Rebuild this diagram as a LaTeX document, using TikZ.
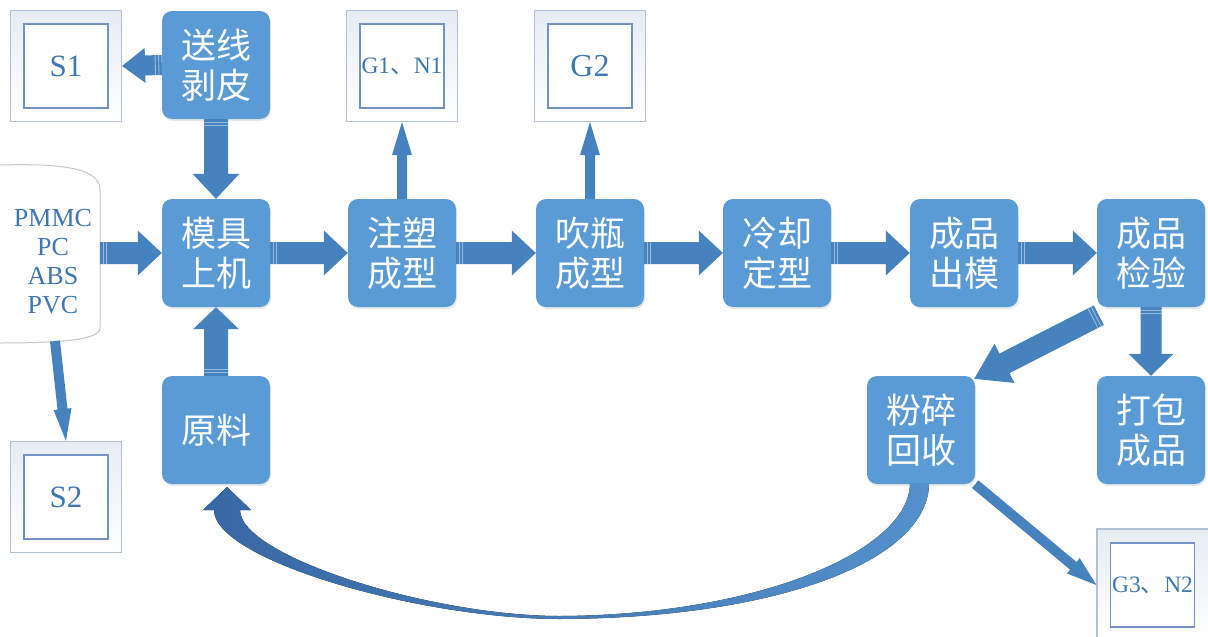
\documentclass[tikz,border=0pt]{standalone}
\usepackage{fontspec}
\setmainfont{Liberation Serif}
\newfontfamily\serifz{Liberation Serif}
\newfontfamily\cjk{Noto Sans CJK SC}
\usetikzlibrary{calc,shadows}
\definecolor{boxc}{RGB}{91,155,213}
\definecolor{arrowc}{RGB}{70,130,190}
\definecolor{txtc}{RGB}{62,118,178}
\definecolor{outc}{RGB}{175,192,215}
\definecolor{inc}{RGB}{115,145,195}
\definecolor{curvl}{RGB}{56,104,163}
\definecolor{curvr}{RGB}{84,144,204}
\newcommand\blockarr[6]{%
  \path let \p1=(#1), \p2=(#2) in \pgfextra{%
    \pgfmathsetmacro\barang{atan2(\y2-\y1,\x2-\x1)}%
    \pgfmathsetmacro\barlen{veclen(\x2-\x1,\y2-\y1)}%
    \xdef\barang{\barang}\xdef\barlen{\barlen}\xdef\barx{\x1}\xdef\bary{\y1}};
  \begin{scope}[shift={(\barx,\bary)}, rotate=\barang, x=1pt, y=1pt]
    \fill[arrowc] (0,-#3) -- ({\barlen-#5},-#3) -- ({\barlen-#5},-#4) -- (\barlen,0) -- ({\barlen-#5},#4) -- ({\barlen-#5},#3) -- (0,#3) -- cycle;
    \ifx y#6\draw[white,opacity=.45,line width=.9pt] (3,-#3) -- (3,#3) (6.5,-#3) -- (6.5,#3);\fi
  \end{scope}}
\tikzset{
  bbox/.style={rounded corners=10pt, fill=boxc, text=white, align=center, inner sep=0pt,
    drop shadow={opacity=0.18, shadow xshift=1pt, shadow yshift=-2pt},
    minimum width=108pt, minimum height=108pt, font=\cjk\fontsize{35}{40}\selectfont},
  obox/.style={draw=outc, line width=1.2pt, top color=outc!30, bottom color=white, minimum width=111pt, minimum height=111pt, inner sep=0pt},
  ibox/.style={draw=inc, line width=1.1pt, fill=white, minimum width=84pt, minimum height=84pt, inner sep=0pt, text=txtc, align=center}
}
\begin{document}
\begin{tikzpicture}[x=1pt,y=-1pt]
\useasboundingbox (0,0) rectangle (1208,637);
\clip (0,0) rectangle (1208,637);
% material shape
\draw[gray!45, line width=1pt, fill=white] (0,165) .. controls (70,163) and (100,170) .. (100,190) -- (100,328) .. controls (100,340) and (60,343) .. (0,343);
\node[align=center, text=txtc, font=\serifz\fontsize{26}{29}\selectfont] (mat) at (53,262) {PMMC\\PC\\ABS\\PVC};
\coordinate (matR) at (100,253);
\coordinate (matB) at (55,341);
% blue boxes
\node[bbox] (songxian) at (216,65) {送线\\剥皮};
\node[bbox] (muju) at (216,253) {模具\\上机};
\node[bbox] (yuanliao) at (216,430) {原料};
\node[bbox] (zhusu) at (402,253) {注塑\\成型};
\node[bbox] (chuiping) at (590,253) {吹瓶\\成型};
\node[bbox] (lengque) at (777,253) {冷却\\定型};
\node[bbox] (chumo) at (964,253) {成品\\出模};
\node[bbox] (jianyan) at (1151,253) {成品\\检验};
\node[bbox] (fensui) at (921,430) {粉碎\\回收};
\node[bbox] (dabao) at (1151,430) {打包\\成品};
% outline boxes
\node[obox] (S1) at (66,66) {};
\node[ibox, font=\serifz\fontsize{31}{31}\selectfont] (S1i) at (S1) {S1};
\node[obox] (G1) at (402,66) {};
\node[ibox, font=\serifz\fontsize{23.5}{23.5}\selectfont] (G1i) at (G1) {G1{\cjk 、}N1};
\node[obox] (G2) at (590,66) {};
\node[ibox, font=\serifz\fontsize{32}{32}\selectfont] (G2i) at (G2) {G2};
\node[obox] (S2) at (66,497) {};
\node[ibox, font=\serifz\fontsize{31}{31}\selectfont] (S2i) at (S2) {S2};
\node[obox, minimum width=112pt, minimum height=112pt] (G3) at (1153,585) {};
\node[ibox, font=\serifz\fontsize{23.5}{23.5}\selectfont] (G3i) at (1152.5,585) {G3{\cjk 、}N2};
% arrows
\blockarr{songxian.west}{S1.east}{10}{17.5}{23}{y}
\blockarr{songxian.south}{muju.north}{12}{23.5}{25}{y}
\blockarr{yuanliao.north}{muju.south}{12}{23}{22}{y}
\blockarr{matR}{muju.west}{11}{22.5}{24}{y}
\blockarr{muju.east}{zhusu.west}{11}{22.5}{24}{y}
\blockarr{zhusu.east}{chuiping.west}{11}{22.5}{24}{y}
\blockarr{chuiping.east}{lengque.west}{11}{22.5}{24}{y}
\blockarr{lengque.east}{chumo.west}{11}{22.5}{24}{y}
\blockarr{chumo.east}{jianyan.west}{11}{22.5}{24}{y}
\blockarr{zhusu.north}{G1.south}{5}{10}{33}{n}
\blockarr{chuiping.north}{G2.south}{5}{10}{33}{n}
\blockarr{jianyan.south}{dabao.north}{10.5}{22.5}{22}{y}
\blockarr{$(jianyan.south west)+(2,8)$}{$(fensui.north east)+(-1,3)$}{11}{22}{34}{y}
\blockarr{fensui.south east}{G3.west}{5}{10}{30}{n}
\blockarr{matB}{S2.north}{5}{9}{32}{n}
% curved return arrow
\fill[left color=curvl, right color=curvr] (929,483) .. controls (929,560) and (780,618) .. (560,619) .. controls (420,619) and (214,560) .. (214,510) -- (203,510) -- (227,487) -- (251,510) -- (240,510) .. controls (240,556) and (430,616) .. (560,616) .. controls (760,615) and (910,550) .. (910,483) -- cycle;
\end{tikzpicture}
\end{document}
